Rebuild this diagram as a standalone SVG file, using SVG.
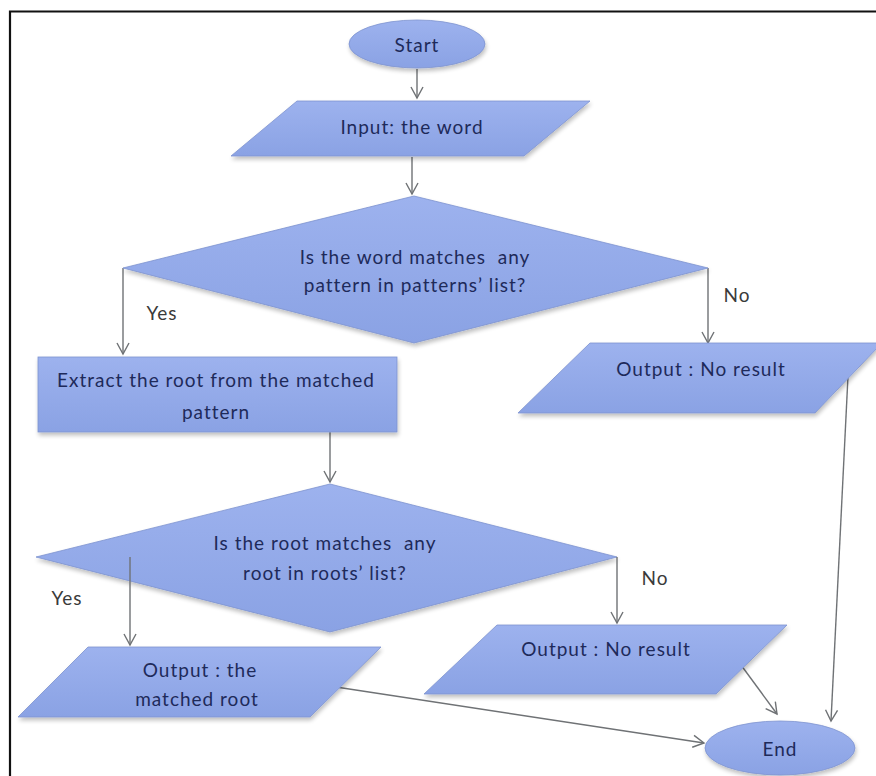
<svg xmlns="http://www.w3.org/2000/svg" width="876" height="776" viewBox="0 0 876 776">
  <style>
    .shape { fill: url(#fillGrad); stroke: #7d93cf; stroke-width: 0.8; filter: url(#shadow); }
    .label { font-family: Lato, "Liberation Sans", sans-serif; font-size: 19px; letter-spacing: 1px; fill: #1e2a5a; text-anchor: middle; dominant-baseline: central; white-space: pre; }
    .edge { fill: none; stroke: #6f7275; stroke-width: 1.4; marker-end: url(#arrow); }
    .tag { font-family: Lato, "Liberation Sans", sans-serif; font-size: 19px; letter-spacing: 1px; fill: #3a3a3a; text-anchor: middle; dominant-baseline: central; }
  </style>
  <defs>
    <linearGradient id="fillGrad" x1="0" y1="0" x2="0" y2="1">
      <stop offset="0" stop-color="#9db2ee"/>
      <stop offset="1" stop-color="#8aa2e4"/>
    </linearGradient>
    <filter id="shadow" x="-10%" y="-10%" width="130%" height="140%">
      <feGaussianBlur in="SourceAlpha" stdDeviation="2"/>
      <feOffset dx="1" dy="3" result="blur"/>
      <feComponentTransfer><feFuncA type="linear" slope="0.25"/></feComponentTransfer>
      <feMerge><feMergeNode/><feMergeNode in="SourceGraphic"/></feMerge>
    </filter>
    <marker id="arrow" markerWidth="14" markerHeight="14" refX="12" refY="7" orient="auto" markerUnits="userSpaceOnUse">
      <path d="M1,1 L12,7 L1,13" fill="none" stroke="#6f7275" stroke-width="1.4"/>
    </marker>
  </defs>

  <rect width="876" height="776" fill="#ffffff"/>
  <!-- frame -->
  <path d="M10,776 L10,11.5 L876,11.5" fill="none" stroke="#111" stroke-width="2.2"/>

  <g id="connectors">
    <line class="edge" x1="417" y1="69" x2="417" y2="98"/>
    <line class="edge" x1="412" y1="157" x2="412" y2="194"/>
    <line class="edge" x1="123" y1="268" x2="123" y2="354"/>
    <line class="edge" x1="708" y1="268" x2="708" y2="343"/>
    <line class="edge" x1="848" y1="376" x2="831" y2="721"/>
    <line class="edge" x1="330" y1="432" x2="330" y2="482"/>
    <line class="edge" x1="741" y1="665" x2="777" y2="714"/>
    <line class="edge" x1="336" y1="687" x2="704" y2="743"/>
    <text class="tag" x="162" y="312">Yes</text>
    <text class="tag" x="737" y="294">No</text>
    <text class="tag" x="67" y="597">Yes</text>
    <text class="tag" x="655" y="577">No</text>
  </g>

  <g id="start">
    <ellipse class="shape" cx="417" cy="44" rx="68" ry="24"/>
    <text class="label" x="417" y="44">Start</text>
  </g>

  <g id="input">
    <polygon class="shape" points="297,101 590,101 524,156 231,156"/>
    <text class="label" x="412" y="126">Input: the word</text>
  </g>

  <g id="decision-pattern">
    <polygon class="shape" points="414,196 708,268 414,343 123,268"/>
    <text class="label" x="415" y="256" xml:space="preserve">Is the word matches  any</text>
    <text class="label" x="415" y="284">pattern in patterns’ list?</text>
  </g>

  <g id="no-result-1">
    <polygon class="shape" points="590,343 882,343 815,413 518,413"/>
    <text class="label" x="701" y="368">Output : No result</text>
  </g>

  <g id="extract">
    <rect class="shape" x="38" y="357" width="359" height="75"/>
    <text class="label" x="216" y="379">Extract the root from the matched</text>
    <text class="label" x="216" y="411">pattern</text>
  </g>

  <g id="decision-root">
    <polygon class="shape" points="330,484 617,557 330,632 36,557"/>
    <text class="label" x="325" y="542" xml:space="preserve">Is the root matches  any</text>
    <text class="label" x="325" y="572">root in roots’ list?</text>
  </g>

  <g id="matched-root">
    <polygon class="shape" points="88,647 381,647 310,717 18,717"/>
    <text class="label" x="200" y="669">Output : the</text>
    <text class="label" x="197" y="698">matched root</text>
  </g>

  <g id="no-result-2">
    <polygon class="shape" points="497,625 787,625 716,694 424,694"/>
    <text class="label" x="606" y="648">Output : No result</text>
  </g>

  <g id="end">
    <ellipse class="shape" cx="780" cy="748" rx="75" ry="27"/>
    <text class="label" x="780" y="748">End</text>
  </g>

  <!-- branch lines that run across the second decision shape -->
  <g id="connectors-over">
    <line class="edge" x1="130" y1="557" x2="130" y2="645"/>
    <line class="edge" x1="617" y1="557" x2="617" y2="623"/>
  </g>
</svg>
